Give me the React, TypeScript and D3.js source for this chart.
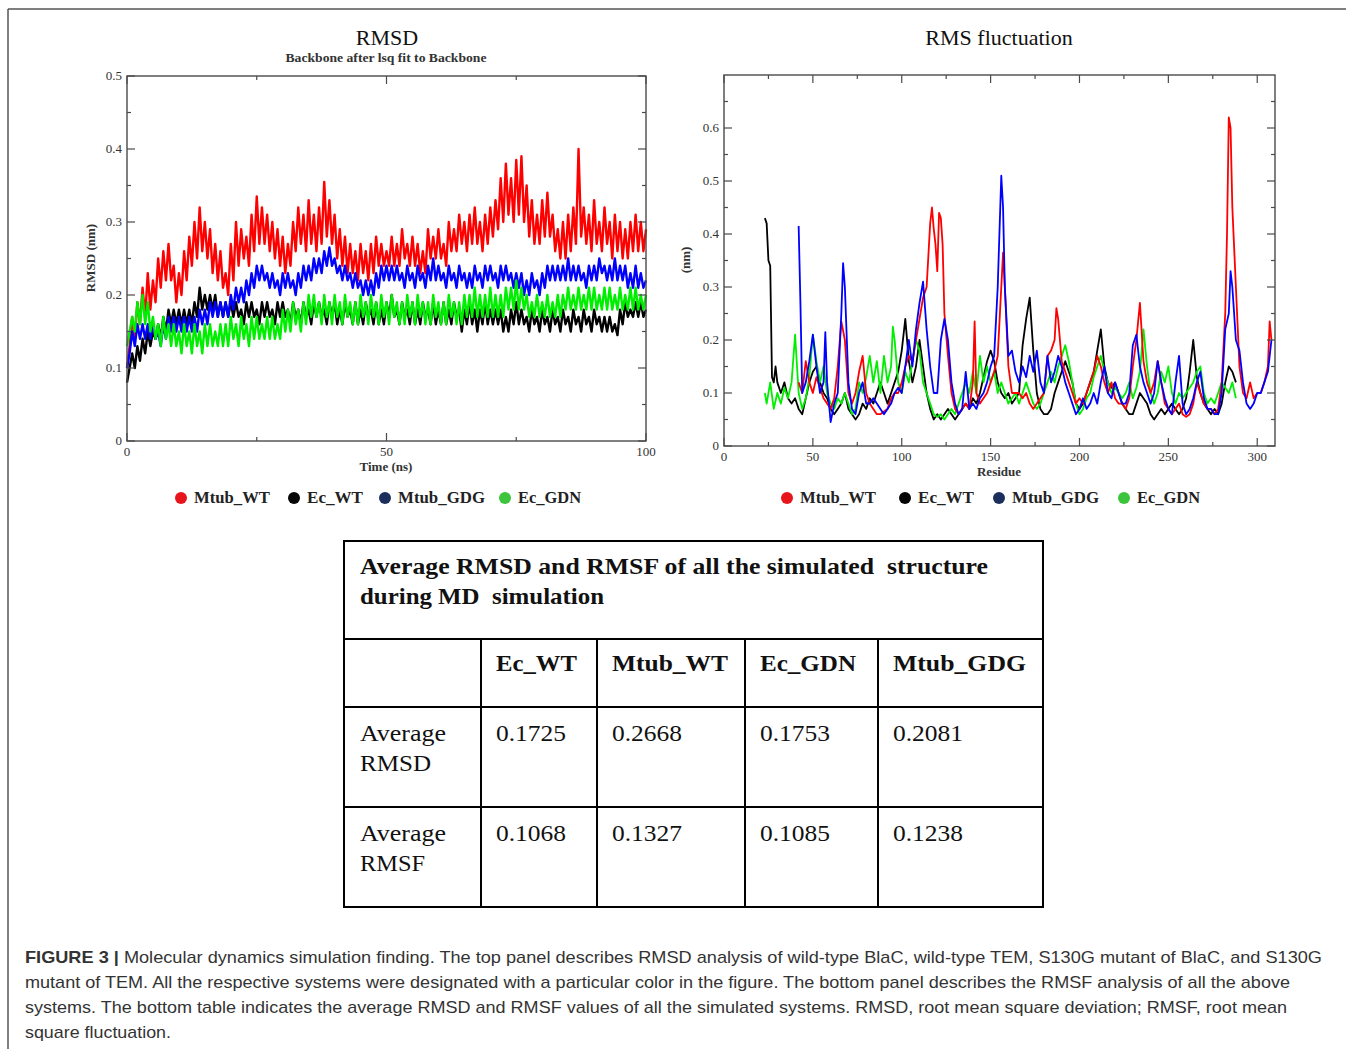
import React from 'react';
import * as d3 from 'd3';

// ---------------- DATA ----------------
const SERIES_NAMES = ['Mtub_WT', 'Ec_WT', 'Mtub_GDG', 'Ec_GDN'];
const LINE_COLORS = ['#ff0000', '#000000', '#0000ff', '#00ee00'];
const LEGEND_COLORS = ['#e8141c', '#060606', '#1c2f5c', '#3cc43c'];

const RMSD_DT = 0.5;
const rmsdMtubWT = [
  0.10,0.13,0.17,0.14,0.19,0.16,0.21,0.17,0.23,0.18,
  0.22,0.19,0.25,0.21,0.26,0.22,0.27,0.22,0.24,0.19,
  0.23,0.20,0.26,0.22,0.28,0.24,0.30,0.25,0.32,0.26,
  0.30,0.25,0.29,0.23,0.27,0.22,0.26,0.21,0.23,0.20,
  0.27,0.22,0.30,0.24,0.29,0.25,0.28,0.24,0.31,0.26,
  0.335,0.27,0.32,0.27,0.31,0.26,0.30,0.25,0.29,0.24,
  0.28,0.23,0.27,0.24,0.30,0.26,0.32,0.27,0.31,0.26,
  0.33,0.27,0.31,0.26,0.32,0.27,0.355,0.28,0.33,0.27,
  0.31,0.25,0.29,0.24,0.28,0.23,0.27,0.23,0.26,0.22,
  0.27,0.23,0.26,0.22,0.27,0.23,0.28,0.24,0.27,0.24,
  0.26,0.24,0.28,0.24,0.27,0.24,0.29,0.25,0.27,0.24,
  0.28,0.24,0.27,0.23,0.26,0.23,0.29,0.25,0.28,0.25,
  0.29,0.25,0.27,0.24,0.30,0.26,0.29,0.26,0.31,0.27,
  0.30,0.26,0.31,0.27,0.32,0.27,0.30,0.26,0.31,0.27,
  0.32,0.28,0.33,0.29,0.36,0.30,0.38,0.31,0.36,0.30,
  0.385,0.31,0.39,0.30,0.35,0.28,0.33,0.27,0.31,0.27,
  0.33,0.28,0.34,0.28,0.31,0.26,0.29,0.25,0.30,0.25,
  0.31,0.26,0.32,0.27,0.40,0.28,0.32,0.27,0.31,0.26,
  0.33,0.27,0.30,0.26,0.32,0.27,0.30,0.25,0.31,0.26,
  0.30,0.25,0.29,0.25,0.30,0.26,0.31,0.26,0.30,0.26,
  0.29,
];
const rmsdEcWT = [
  0.08,0.10,0.12,0.10,0.13,0.11,0.14,0.12,0.15,0.13,
  0.15,0.14,0.16,0.14,0.17,0.15,0.18,0.16,0.18,0.16,
  0.18,0.16,0.18,0.16,0.18,0.16,0.19,0.17,0.21,0.18,
  0.20,0.18,0.20,0.18,0.20,0.17,0.19,0.17,0.19,0.17,
  0.19,0.17,0.19,0.17,0.18,0.16,0.19,0.17,0.19,0.17,
  0.18,0.16,0.19,0.17,0.19,0.17,0.18,0.16,0.19,0.17,
  0.19,0.17,0.18,0.16,0.19,0.17,0.18,0.16,0.19,0.17,
  0.18,0.16,0.19,0.17,0.19,0.17,0.18,0.16,0.19,0.17,
  0.19,0.16,0.18,0.16,0.19,0.17,0.18,0.16,0.19,0.16,
  0.18,0.16,0.19,0.17,0.18,0.16,0.19,0.16,0.18,0.16,
  0.19,0.17,0.20,0.17,0.18,0.16,0.19,0.17,0.18,0.16,
  0.19,0.16,0.18,0.16,0.19,0.17,0.18,0.16,0.19,0.16,
  0.18,0.16,0.19,0.16,0.18,0.16,0.19,0.17,0.18,0.15,
  0.18,0.16,0.19,0.16,0.18,0.15,0.18,0.16,0.19,0.16,
  0.18,0.16,0.18,0.16,0.18,0.15,0.17,0.15,0.18,0.16,
  0.19,0.16,0.18,0.16,0.17,0.15,0.18,0.16,0.17,0.15,
  0.18,0.16,0.17,0.15,0.18,0.16,0.17,0.15,0.18,0.16,
  0.17,0.15,0.18,0.16,0.17,0.15,0.18,0.16,0.17,0.15,
  0.18,0.16,0.17,0.15,0.17,0.15,0.17,0.15,0.16,0.145,
  0.18,0.16,0.19,0.17,0.18,0.17,0.19,0.17,0.19,0.17,
  0.18,
];
const rmsdMtubGDG = [
  0.10,0.12,0.15,0.13,0.16,0.14,0.16,0.14,0.16,0.14,
  0.16,0.14,0.15,0.13,0.16,0.14,0.17,0.15,0.17,0.15,
  0.17,0.15,0.17,0.15,0.17,0.15,0.17,0.15,0.18,0.16,
  0.18,0.16,0.19,0.17,0.19,0.17,0.19,0.17,0.19,0.17,
  0.20,0.18,0.21,0.19,0.21,0.19,0.22,0.20,0.23,0.21,
  0.24,0.22,0.24,0.22,0.23,0.21,0.23,0.21,0.22,0.20,
  0.23,0.21,0.23,0.21,0.22,0.20,0.23,0.21,0.24,0.22,
  0.24,0.22,0.25,0.23,0.25,0.23,0.26,0.24,0.265,0.24,
  0.25,0.23,0.24,0.22,0.24,0.22,0.23,0.21,0.23,0.21,
  0.22,0.20,0.22,0.20,0.22,0.20,0.23,0.21,0.24,0.22,
  0.24,0.22,0.24,0.22,0.24,0.22,0.23,0.21,0.24,0.22,
  0.23,0.21,0.24,0.22,0.23,0.21,0.24,0.22,0.25,0.22,
  0.24,0.22,0.23,0.21,0.24,0.22,0.23,0.21,0.24,0.22,
  0.23,0.21,0.23,0.21,0.24,0.22,0.23,0.21,0.24,0.22,
  0.24,0.22,0.23,0.21,0.24,0.22,0.24,0.22,0.23,0.21,
  0.23,0.21,0.23,0.20,0.22,0.20,0.23,0.21,0.22,0.20,
  0.23,0.21,0.24,0.22,0.24,0.22,0.24,0.22,0.24,0.22,
  0.25,0.22,0.24,0.22,0.24,0.22,0.23,0.21,0.24,0.22,
  0.24,0.22,0.25,0.23,0.24,0.22,0.24,0.22,0.25,0.22,
  0.24,0.22,0.24,0.21,0.23,0.21,0.24,0.21,0.23,0.21,
  0.22,
];
const rmsdEcGDN = [
  0.13,0.15,0.17,0.15,0.19,0.16,0.20,0.16,0.19,0.15,
  0.17,0.14,0.16,0.13,0.17,0.14,0.16,0.13,0.16,0.13,
  0.15,0.12,0.16,0.13,0.15,0.12,0.16,0.13,0.15,0.12,
  0.16,0.13,0.16,0.13,0.15,0.13,0.16,0.13,0.16,0.13,
  0.17,0.14,0.16,0.13,0.17,0.14,0.16,0.13,0.17,0.14,
  0.17,0.14,0.16,0.14,0.17,0.14,0.17,0.14,0.16,0.14,
  0.18,0.15,0.18,0.15,0.19,0.16,0.18,0.15,0.19,0.16,
  0.20,0.17,0.20,0.17,0.19,0.16,0.20,0.17,0.19,0.16,
  0.20,0.17,0.19,0.16,0.20,0.17,0.19,0.16,0.19,0.16,
  0.20,0.17,0.19,0.16,0.20,0.17,0.19,0.16,0.20,0.17,
  0.19,0.16,0.20,0.17,0.19,0.16,0.19,0.16,0.20,0.17,
  0.19,0.16,0.20,0.17,0.19,0.16,0.19,0.16,0.20,0.17,
  0.19,0.16,0.19,0.16,0.20,0.17,0.19,0.16,0.19,0.16,
  0.20,0.17,0.20,0.17,0.21,0.17,0.20,0.17,0.20,0.17,
  0.21,0.17,0.20,0.17,0.20,0.17,0.21,0.18,0.21,0.18,
  0.22,0.18,0.21,0.18,0.20,0.17,0.19,0.17,0.20,0.17,
  0.19,0.17,0.20,0.17,0.19,0.17,0.20,0.17,0.20,0.18,
  0.21,0.18,0.20,0.18,0.21,0.18,0.20,0.18,0.21,0.18,
  0.21,0.18,0.20,0.18,0.21,0.18,0.21,0.18,0.20,0.18,
  0.21,0.18,0.20,0.18,0.21,0.18,0.21,0.18,0.20,0.18,
  0.20,
];

// RMSF (nm) per residue: [residue, value]
const rmsfMtubWT: [number, number][] = [
  [42,0.12],[44,0.10],[46,0.16],[48,0.12],[50,0.10],[52,0.13],[54,0.11],[56,0.09],[58,0.08],[60,0.07],
  [62,0.09],[64,0.15],[66,0.235],[68,0.20],[70,0.10],[72,0.08],[74,0.10],[76,0.14],[78,0.17],[80,0.10],
  [82,0.08],[84,0.07],[86,0.06],[88,0.06],[90,0.065],[92,0.07],[94,0.09],[96,0.10],[98,0.10],[100,0.12],
  [102,0.15],[104,0.17],[106,0.16],[108,0.20],[110,0.24],[112,0.28],[114,0.30],[116,0.42],[117,0.45],[118,0.41],
  [119,0.38],[120,0.33],[121,0.44],[122,0.43],[123,0.38],[124,0.25],[126,0.17],[128,0.10],[130,0.07],[132,0.06],
  [134,0.07],[136,0.08],[138,0.07],[140,0.12],[141,0.235],[142,0.10],[144,0.08],[146,0.09],[148,0.10],[150,0.12],
  [152,0.14],[154,0.17],[156,0.30],[157,0.365],[158,0.30],[160,0.15],[162,0.10],[164,0.10],[166,0.10],[168,0.09],
  [170,0.10],[172,0.08],[174,0.07],[176,0.08],[178,0.09],[180,0.10],[182,0.17],[184,0.18],[186,0.20],[187,0.26],
  [188,0.24],[190,0.16],[192,0.14],[194,0.12],[196,0.10],[198,0.08],[200,0.09],[202,0.08],[204,0.10],[206,0.12],
  [208,0.14],[210,0.17],[212,0.15],[214,0.12],[216,0.10],[218,0.12],[220,0.09],[222,0.08],[224,0.08],[226,0.07],
  [228,0.09],[230,0.15],[232,0.20],[234,0.27],[236,0.16],[238,0.12],[240,0.10],[242,0.12],[244,0.16],[246,0.12],
  [248,0.08],[250,0.07],[252,0.06],[254,0.07],[256,0.08],[258,0.06],[260,0.055],[262,0.06],[264,0.08],[266,0.12],
  [268,0.10],[270,0.08],[272,0.07],[274,0.07],[276,0.06],[278,0.07],[280,0.12],[282,0.25],[283,0.40],[284,0.62],
  [285,0.60],[286,0.45],[288,0.30],[290,0.15],[292,0.10],[294,0.09],[296,0.12],[298,0.09],[300,0.10],[302,0.10],
  [304,0.12],[306,0.15],[307,0.235],[308,0.20],
];
const rmsfEcWT: [number, number][] = [
  [23,0.43],[24,0.42],[25,0.35],[26,0.34],[27,0.13],[28,0.12],[29,0.15],[30,0.12],[32,0.10],[34,0.12],
  [36,0.09],[38,0.08],[40,0.09],[42,0.07],[44,0.06],[46,0.09],[48,0.12],[50,0.14],[52,0.15],[54,0.12],
  [56,0.10],[58,0.09],[60,0.07],[62,0.06],[64,0.07],[66,0.08],[68,0.10],[70,0.07],[72,0.06],[74,0.05],
  [76,0.06],[78,0.08],[80,0.07],[82,0.09],[84,0.08],[86,0.10],[88,0.12],[90,0.10],[92,0.08],[94,0.10],
  [96,0.12],[98,0.14],[100,0.18],[102,0.24],[104,0.16],[106,0.12],[108,0.15],[110,0.20],[112,0.15],[114,0.10],
  [116,0.07],[118,0.05],[120,0.06],[122,0.05],[124,0.06],[126,0.07],[128,0.06],[130,0.05],[132,0.06],[134,0.07],
  [136,0.08],[138,0.07],[140,0.09],[142,0.08],[144,0.10],[146,0.13],[148,0.16],[150,0.18],[152,0.16],[154,0.12],
  [156,0.10],[158,0.09],[160,0.10],[162,0.08],[164,0.09],[166,0.10],[168,0.19],[170,0.24],[172,0.28],[174,0.18],
  [176,0.10],[178,0.07],[180,0.06],[182,0.06],[184,0.07],[186,0.10],[188,0.12],[190,0.14],[192,0.16],[194,0.14],
  [196,0.12],[198,0.08],[200,0.07],[202,0.08],[204,0.10],[206,0.12],[208,0.14],[210,0.18],[212,0.22],[214,0.15],
  [216,0.12],[218,0.11],[220,0.12],[222,0.10],[224,0.08],[226,0.07],[228,0.06],[230,0.06],[232,0.08],[234,0.10],
  [236,0.09],[238,0.08],[240,0.06],[242,0.05],[244,0.06],[246,0.07],[248,0.06],[250,0.07],[252,0.08],[254,0.07],
  [256,0.06],[258,0.07],[260,0.09],[262,0.14],[264,0.20],[266,0.13],[268,0.10],[270,0.08],[272,0.07],[274,0.06],
  [276,0.07],[278,0.06],[280,0.08],[282,0.12],[284,0.15],[286,0.14],[288,0.12],
];
const rmsfMtubGDG: [number, number][] = [
  [42,0.415],[43,0.27],[44,0.10],[46,0.12],[48,0.16],[50,0.21],[52,0.15],[54,0.10],[56,0.12],[57,0.215],
  [58,0.12],[60,0.045],[62,0.08],[64,0.10],[66,0.25],[67,0.345],[68,0.30],[70,0.12],[72,0.07],[74,0.06],
  [76,0.10],[78,0.12],[80,0.08],[82,0.08],[84,0.09],[86,0.08],[88,0.07],[90,0.06],[92,0.07],[94,0.08],
  [96,0.10],[98,0.11],[100,0.10],[102,0.15],[104,0.20],[106,0.15],[108,0.22],[110,0.27],[112,0.31],[114,0.22],
  [116,0.15],[118,0.10],[120,0.10],[122,0.20],[124,0.24],[126,0.20],[128,0.12],[130,0.08],[132,0.06],[134,0.07],
  [136,0.14],[138,0.07],[140,0.08],[142,0.07],[144,0.09],[146,0.10],[148,0.12],[150,0.15],[152,0.17],[154,0.30],
  [156,0.51],[157,0.45],[158,0.30],[160,0.17],[162,0.18],[164,0.14],[166,0.12],[168,0.15],[170,0.13],[172,0.17],
  [174,0.14],[176,0.18],[178,0.12],[180,0.10],[182,0.17],[184,0.12],[186,0.14],[188,0.17],[190,0.15],[192,0.12],
  [194,0.10],[196,0.08],[198,0.06],[200,0.07],[202,0.09],[204,0.07],[206,0.08],[208,0.10],[210,0.08],[212,0.12],
  [214,0.15],[216,0.10],[218,0.09],[220,0.12],[222,0.10],[224,0.08],[226,0.08],[228,0.10],[230,0.19],[232,0.21],
  [234,0.15],[236,0.12],[238,0.10],[240,0.08],[242,0.10],[244,0.16],[246,0.12],[248,0.09],[250,0.07],[252,0.06],
  [254,0.12],[256,0.17],[258,0.08],[260,0.06],[262,0.07],[264,0.09],[266,0.12],[268,0.14],[270,0.09],[272,0.07],
  [274,0.07],[276,0.06],[278,0.06],[280,0.10],[282,0.22],[284,0.25],[285,0.33],[286,0.30],[288,0.20],[290,0.18],
  [292,0.12],[294,0.08],[296,0.07],[298,0.08],[300,0.10],[302,0.10],[304,0.12],[306,0.14],[308,0.20],
];
const rmsfEcGDN: [number, number][] = [
  [23,0.10],[24,0.08],[26,0.12],[28,0.07],[30,0.10],[32,0.08],[34,0.11],[36,0.09],[38,0.12],[40,0.21],
  [42,0.10],[44,0.07],[46,0.09],[48,0.13],[50,0.21],[52,0.16],[54,0.12],[56,0.15],[58,0.10],[60,0.08],
  [62,0.07],[64,0.09],[66,0.08],[68,0.10],[70,0.08],[72,0.06],[74,0.07],[76,0.12],[78,0.10],[80,0.13],
  [82,0.17],[84,0.12],[86,0.16],[88,0.10],[90,0.17],[92,0.12],[94,0.15],[95,0.225],[96,0.20],[98,0.12],
  [100,0.10],[102,0.14],[104,0.12],[106,0.16],[108,0.20],[110,0.18],[112,0.12],[114,0.10],[116,0.08],[118,0.06],
  [120,0.055],[122,0.06],[124,0.05],[126,0.06],[128,0.07],[130,0.06],[132,0.08],[134,0.10],[136,0.12],[138,0.10],
  [140,0.14],[142,0.10],[144,0.17],[146,0.12],[148,0.15],[150,0.12],[152,0.14],[154,0.10],[156,0.12],[158,0.10],
  [160,0.08],[162,0.09],[164,0.10],[166,0.08],[168,0.10],[170,0.12],[172,0.10],[174,0.08],[176,0.07],[178,0.08],
  [180,0.10],[182,0.12],[184,0.14],[186,0.12],[188,0.15],[190,0.17],[192,0.19],[194,0.16],[196,0.12],[198,0.08],
  [200,0.06],[202,0.07],[204,0.09],[206,0.10],[208,0.13],[210,0.15],[212,0.17],[214,0.14],[216,0.12],[218,0.10],
  [220,0.11],[222,0.10],[224,0.09],[226,0.10],[228,0.12],[230,0.09],[232,0.11],[234,0.14],[236,0.22],[238,0.15],
  [240,0.10],[242,0.08],[244,0.10],[246,0.14],[248,0.12],[250,0.15],[252,0.10],[254,0.08],[256,0.10],[258,0.09],
  [260,0.10],[262,0.11],[264,0.12],[266,0.14],[268,0.15],[270,0.10],[272,0.08],[274,0.09],[276,0.08],[278,0.10],
  [280,0.12],[282,0.11],[284,0.10],[286,0.12],[288,0.09],
];

// axis ticks
const RMSD_X_MAJOR = [0, 50, 100];
const RMSD_X_MINOR = [25, 75];
const RMSD_Y_MAJOR = [0, 0.1, 0.2, 0.3, 0.4, 0.5];
const RMSD_Y_MINOR = [0.05, 0.15, 0.25, 0.35, 0.45];
const RMSF_X_MAJOR = [0, 50, 100, 150, 200, 250, 300];
const RMSF_X_MINOR = [25, 75, 125, 175, 225, 275];
const RMSF_Y_MAJOR = [0, 0.1, 0.2, 0.3, 0.4, 0.5, 0.6];
const RMSF_Y_MINOR = [0.05, 0.15, 0.25, 0.35, 0.45, 0.55, 0.65];

// table
const TABLE_TITLE = ['Average RMSD and RMSF of all the simulated\u00a0 structure', 'during MD\u00a0 simulation'];
const TABLE_COLUMNS = ['Ec_WT', 'Mtub_WT', 'Ec_GDN', 'Mtub_GDG'];
const TABLE_ROWS = [['Average', 'RMSD'], ['Average', 'RMSF']];
const AVG_RMSD = ['0.1725', '0.2668', '0.1753', '0.2081'];
const AVG_RMSF = ['0.1068', '0.1327', '0.1085', '0.1238'];

const CAPTION_LINES = [
  ' Molecular dynamics simulation finding. The top panel describes RMSD analysis of wild-type BlaC, wild-type TEM, S130G mutant of BlaC, and S130G',
  'mutant of TEM. All the respective systems were designated with a particular color in the figure. The bottom panel describes the RMSF analysis of all the above',
  'systems. The bottom table indicates the average RMSD and RMSF values of all the simulated systems. RMSD, root mean square deviation; RMSF, root mean',
  'square fluctuation.',
];

// ---------------- DRAWING ----------------
const SERIF = '"Liberation Serif", "Times New Roman", serif';
const SANS = '"Liberation Sans", Arial, Helvetica, sans-serif';

type Scale = d3.ScaleLinear<number, number>;

function Frame({ x, y, xMajor, xMinor, yMajor, yMinor, xLabelY, yLabelX }: {
  x: Scale; y: Scale; xMajor: number[]; xMinor: number[]; yMajor: number[]; yMinor: number[];
  xLabelY: number; yLabelX: number;
}) {
  const [x0, x1] = x.range();
  const [y0, y1] = y.range(); // y0 bottom, y1 top
  const MJ = 8, MN = 4;
  const col = '#4a4a4a';
  const fmt = (v: number) => (v === 0 ? '0' : d3.format('.1f')(v));
  return (
    <g>
      <rect x={x0} y={y1} width={x1 - x0} height={y0 - y1} fill="none" stroke={col} strokeWidth={1.4} />
      {xMajor.map((v) => (
        <g key={'xM' + v}>
          <line x1={x(v)} x2={x(v)} y1={y0} y2={y0 - MJ} stroke={col} strokeWidth={1.2} />
          <line x1={x(v)} x2={x(v)} y1={y1} y2={y1 + MJ} stroke={col} strokeWidth={1.2} />
          <text x={x(v)} y={xLabelY} textAnchor="middle" fontFamily={SERIF} fontSize={13} fill="#333">{v}</text>
        </g>
      ))}
      {xMinor.map((v) => (
        <g key={'xm' + v}>
          <line x1={x(v)} x2={x(v)} y1={y0} y2={y0 - MN} stroke={col} strokeWidth={1.2} />
          <line x1={x(v)} x2={x(v)} y1={y1} y2={y1 + MN} stroke={col} strokeWidth={1.2} />
        </g>
      ))}
      {yMajor.map((v) => (
        <g key={'yM' + v}>
          <line x1={x0} x2={x0 + MJ} y1={y(v)} y2={y(v)} stroke={col} strokeWidth={1.2} />
          <line x1={x1} x2={x1 - MJ} y1={y(v)} y2={y(v)} stroke={col} strokeWidth={1.2} />
          <text x={yLabelX} y={y(v) + 4} textAnchor="end" fontFamily={SERIF} fontSize={13} fill="#333">{fmt(v)}</text>
        </g>
      ))}
      {yMinor.map((v) => (
        <g key={'ym' + v}>
          <line x1={x0} x2={x0 + MN} y1={y(v)} y2={y(v)} stroke={col} strokeWidth={1.2} />
          <line x1={x1} x2={x1 - MN} y1={y(v)} y2={y(v)} stroke={col} strokeWidth={1.2} />
        </g>
      ))}
    </g>
  );
}

function Legend({ startXs }: { startXs: number[] }) {
  const widths = [76, 56, 87, 63];
  return (
    <g>
      {SERIES_NAMES.map((n, i) => (
        <g key={n}>
          <circle cx={startXs[i]} cy={498} r={6} fill={LEGEND_COLORS[i]} />
          <text x={startXs[i] + 13} y={503} fontFamily={SERIF} fontSize={16} fontWeight="bold" fill="#222"
            textLength={widths[i]} lengthAdjust="spacingAndGlyphs">{n}</text>
        </g>
      ))}
    </g>
  );
}

export default function App() {
  // RMSD panel
  const xT = d3.scaleLinear().domain([0, 100]).range([127, 646]);
  const yD = d3.scaleLinear().domain([0, 0.5]).range([441, 76]);
  const rmsdSeries = [rmsdMtubWT, rmsdEcWT, rmsdMtubGDG, rmsdEcGDN];
  const rmsdLine = d3.line<number>().x((_, i) => xT(i * RMSD_DT)).y((v) => yD(v));

  // RMSF panel
  const xR = d3.scaleLinear().domain([0, 310]).range([724, 1275]);
  const yF = d3.scaleLinear().domain([0, 0.7]).range([446, 75]);
  const rmsfSeries = [rmsfMtubWT, rmsfEcWT, rmsfMtubGDG, rmsfEcGDN];
  const rmsfLine = d3.line<[number, number]>().x((d) => xR(d[0])).y((d) => yF(d[1]));
  const rmsfOrder = [1, 3, 0, 2];
  const rmsdOrder = [0, 1, 2, 3];

  // table geometry
  const colX = [344, 481, 597, 745, 878, 1043];
  const rowY = [541, 639, 707, 807, 907];
  const headerW = [81, 116, 96, 133];

  return (
    <svg width={1346} height={1049} style={{ position: 'absolute', left: 0, top: 0, background: '#fff' }}>
      <rect x={0} y={0} width={1346} height={1049} fill="#fff" />
      {/* outer frame */}
      <line x1={8} x2={1346} y1={9} y2={9} stroke="#555" strokeWidth={1.5} />
      <line x1={8} x2={8} y1={9} y2={1049} stroke="#555" strokeWidth={1.5} />

      {/* ---- RMSD ---- */}
      <text x={387} y={45} textAnchor="middle" fontFamily={SERIF} fontSize={22} fill="#111">RMSD</text>
      <text x={386} y={62} textAnchor="middle" fontFamily={SERIF} fontSize={12.5} fontWeight="bold" fill="#333"
        textLength={201} lengthAdjust="spacingAndGlyphs">Backbone after lsq fit to Backbone</text>
      {rmsdOrder.map((i) => (
        <path key={'d' + i} d={rmsdLine(rmsdSeries[i]) || ''} fill="none" stroke={LINE_COLORS[i]} strokeWidth={2.4} strokeLinejoin="round" />
      ))}
      <Frame x={xT} y={yD} xMajor={RMSD_X_MAJOR} xMinor={RMSD_X_MINOR} yMajor={RMSD_Y_MAJOR} yMinor={RMSD_Y_MINOR}
        xLabelY={456} yLabelX={122} />
      <text x={386} y={471} textAnchor="middle" fontFamily={SERIF} fontSize={13} fontWeight="bold" fill="#333">Time (ns)</text>
      <text transform="translate(95,258) rotate(-90)" textAnchor="middle" fontFamily={SERIF} fontSize={13} fontWeight="bold" fill="#333">RMSD (nm)</text>
      <Legend startXs={[181, 294, 385, 505]} />

      {/* ---- RMSF ---- */}
      <text x={999} y={45} textAnchor="middle" fontFamily={SERIF} fontSize={22} fill="#111">RMS fluctuation</text>
      {rmsfOrder.map((i) => (
        <path key={'f' + i} d={rmsfLine(rmsfSeries[i]) || ''} fill="none" stroke={LINE_COLORS[i]} strokeWidth={1.8} strokeLinejoin="round" />
      ))}
      <Frame x={xR} y={yF} xMajor={RMSF_X_MAJOR} xMinor={RMSF_X_MINOR} yMajor={RMSF_Y_MAJOR} yMinor={RMSF_Y_MINOR}
        xLabelY={461} yLabelX={719} />
      <text x={999} y={476} textAnchor="middle" fontFamily={SERIF} fontSize={13} fontWeight="bold" fill="#333">Residue</text>
      <text transform="translate(690,260) rotate(-90)" textAnchor="middle" fontFamily={SERIF} fontSize={13} fontWeight="bold" fill="#333">(nm)</text>
      <Legend startXs={[787, 905, 999, 1124]} />

      {/* ---- TABLE ---- */}
      <g stroke="#000" strokeWidth={2}>
        <rect x={colX[0]} y={rowY[0]} width={colX[5] - colX[0]} height={rowY[4] - rowY[0]} fill="none" />
        {rowY.slice(1, 4).map((yy) => <line key={'r' + yy} x1={colX[0]} x2={colX[5]} y1={yy} y2={yy} />)}
        {colX.slice(1, 5).map((xx) => <line key={'c' + xx} x1={xx} x2={xx} y1={rowY[1]} y2={rowY[4]} />)}
      </g>
      <text x={360} y={574} fontFamily={SERIF} fontSize={24} fontWeight="bold" fill="#111" textLength={628} lengthAdjust="spacingAndGlyphs">{TABLE_TITLE[0]}</text>
      <text x={360} y={604} fontFamily={SERIF} fontSize={24} fontWeight="bold" fill="#111" textLength={244} lengthAdjust="spacingAndGlyphs">{TABLE_TITLE[1]}</text>
      {TABLE_COLUMNS.map((c, i) => (
        <text key={c} x={colX[i + 1] + 15} y={671} fontFamily={SERIF} fontSize={24} fontWeight="bold" fill="#111"
          textLength={headerW[i]} lengthAdjust="spacingAndGlyphs">{c}</text>
      ))}
      {TABLE_ROWS.map((r, ri) => (
        <g key={'row' + ri}>
          <text x={360} y={741 + ri * 100} fontFamily={SERIF} fontSize={24} fill="#111" textLength={86} lengthAdjust="spacingAndGlyphs">{r[0]}</text>
          <text x={360} y={771 + ri * 100} fontFamily={SERIF} fontSize={24} fill="#111" textLength={ri === 0 ? 71 : 65} lengthAdjust="spacingAndGlyphs">{r[1]}</text>
          {(ri === 0 ? AVG_RMSD : AVG_RMSF).map((v, i) => (
            <text key={v + i} x={colX[i + 1] + 15} y={741 + ri * 100} fontFamily={SERIF} fontSize={24} fill="#111"
              textLength={70} lengthAdjust="spacingAndGlyphs">{v}</text>
          ))}
        </g>
      ))}

      {/* ---- CAPTION ---- */}
      <text x={25} y={963} fontFamily={SANS} fontSize={17} fill="#333" textLength={1297} lengthAdjust="spacingAndGlyphs">
        <tspan fontWeight="bold">FIGURE 3 |</tspan>
        <tspan>{CAPTION_LINES[0]}</tspan>
      </text>
      <text x={25} y={988} fontFamily={SANS} fontSize={17} fill="#333" textLength={1265} lengthAdjust="spacingAndGlyphs">{CAPTION_LINES[1]}</text>
      <text x={25} y={1013} fontFamily={SANS} fontSize={17} fill="#333" textLength={1262} lengthAdjust="spacingAndGlyphs">{CAPTION_LINES[2]}</text>
      <text x={25} y={1038} fontFamily={SANS} fontSize={17} fill="#333" textLength={146} lengthAdjust="spacingAndGlyphs">{CAPTION_LINES[3]}</text>
    </svg>
  );
}
